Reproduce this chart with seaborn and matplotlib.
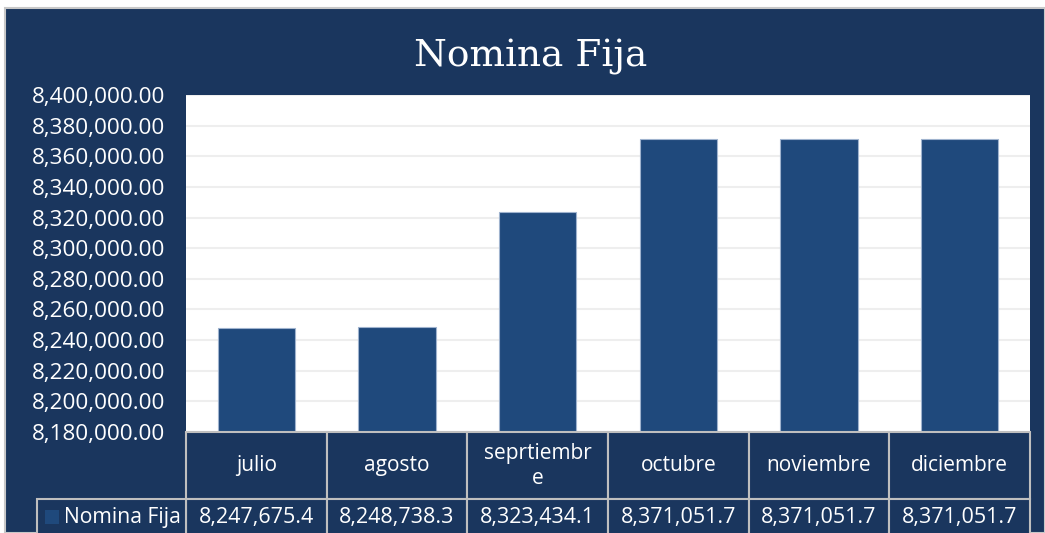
import matplotlib
matplotlib.use("Agg")
import matplotlib.pyplot as plt
import seaborn as sns
import pandas as pd
from matplotlib.patches import Rectangle

months = ["julio", "agosto", "seprtiembre", "octubre", "noviembre", "diciembre"]
month_labels = ["julio", "agosto", "seprtiembr\ne", "octubre", "noviembre", "diciembre"]
values = [8247675.4, 8248738.3, 8323434.1, 8371051.7, 8371051.7, 8371051.7]
series_name = "Nomina Fija"
title = "Nomina Fija"
y_ticks = list(range(8180000, 8400001, 20000))

NAVY = "#1A365E"
BAR = "#1F497C"
GRID = "#EEEEEE"
BORDER = "#BFBFBF"

sns.set_theme(style="white")
plt.rcParams['font.family'] = ['Open Sans', 'DejaVu Sans']

W, H = 1045, 533
fig = plt.figure(figsize=(W / 100, H / 100), dpi=100)
fig.patch.set_facecolor("white")

def fx(px):
    return px / W

def fy(py):
    return 1 - py / H

# navy chart background with thin gray frame
fig.patches.append(Rectangle((fx(5), 0), 1 - fx(5), fy(8), transform=fig.transFigure,
                             facecolor=NAVY, edgecolor="#C8C8C8", linewidth=1.5, zorder=-5))

left, right, top, bottom = 186, 1030, 95, 432
ax = fig.add_axes([fx(left), fy(bottom), fx(right - left), (bottom - top) / H])
ax.set_zorder(1)
ax.set_facecolor("white")

df = pd.DataFrame({"month": months, "value": values})
sns.barplot(data=df, x="month", y="value", color=BAR, saturation=1, width=0.55,
            edgecolor="#9FB3CE", linewidth=0.8, ax=ax, zorder=3)
ax.set_ylim(y_ticks[0], y_ticks[-1])
ax.set_yticks(y_ticks)
ax.set_yticklabels([f"{t:,.2f}" for t in y_ticks], color="white", fontsize=16.2)
ax.tick_params(axis="y", length=0, pad=15)
ax.set_xticks([])
ax.set_xlabel("")
ax.set_ylabel("")
ax.set_xlim(-0.5, len(months) - 0.5)
ax.yaxis.grid(True, color=GRID, linewidth=1.5, zorder=0)
ax.set_axisbelow(True)
for s in ax.spines.values():
    s.set_visible(False)

fig.text(0.508, fy(57), title, ha="center", va="center", color="white",
         fontsize=27, family=["DejaVu Serif"])

# data table drawn in figure coordinates
col_w = (right - left) / len(months)
row1_top, row1_bot = 432, 499
row2_top, row2_bot = 499, 545
lw = 1.5

def cell(x0, y0, x1, y1):
    fig.patches.append(Rectangle((fx(x0), fy(y1)), fx(x1 - x0), (y1 - y0) / H,
                                 transform=fig.transFigure, facecolor=NAVY,
                                 edgecolor=BORDER, linewidth=lw, zorder=2))

for i, (lab, v) in enumerate(zip(month_labels, values)):
    x0 = left + i * col_w
    cell(x0, row1_top, x0 + col_w, row1_bot)
    cell(x0, row2_top, x0 + col_w, row2_bot)
    cx = fx(x0 + col_w / 2)
    fig.text(cx, fy((row1_top + row1_bot) / 2), lab, ha="center", va="center",
             color="white", fontsize=15, linespacing=1.25, zorder=5)
    fig.text(cx, fy(517), f"{v:,.1f}", ha="center", va="center",
             color="white", fontsize=15.5, zorder=5)

cell(37, row2_top, left, row2_bot)
fig.patches.append(Rectangle((fx(45), fy(524)), fx(14), 14 / H, transform=fig.transFigure,
                             facecolor=BAR, edgecolor="none", zorder=5))
fig.text(fx(64), fy(517), series_name, ha="left", va="center", color="white",
         fontsize=15.2, zorder=5)

fig.savefig("out.png", dpi=100, facecolor=fig.get_facecolor())
